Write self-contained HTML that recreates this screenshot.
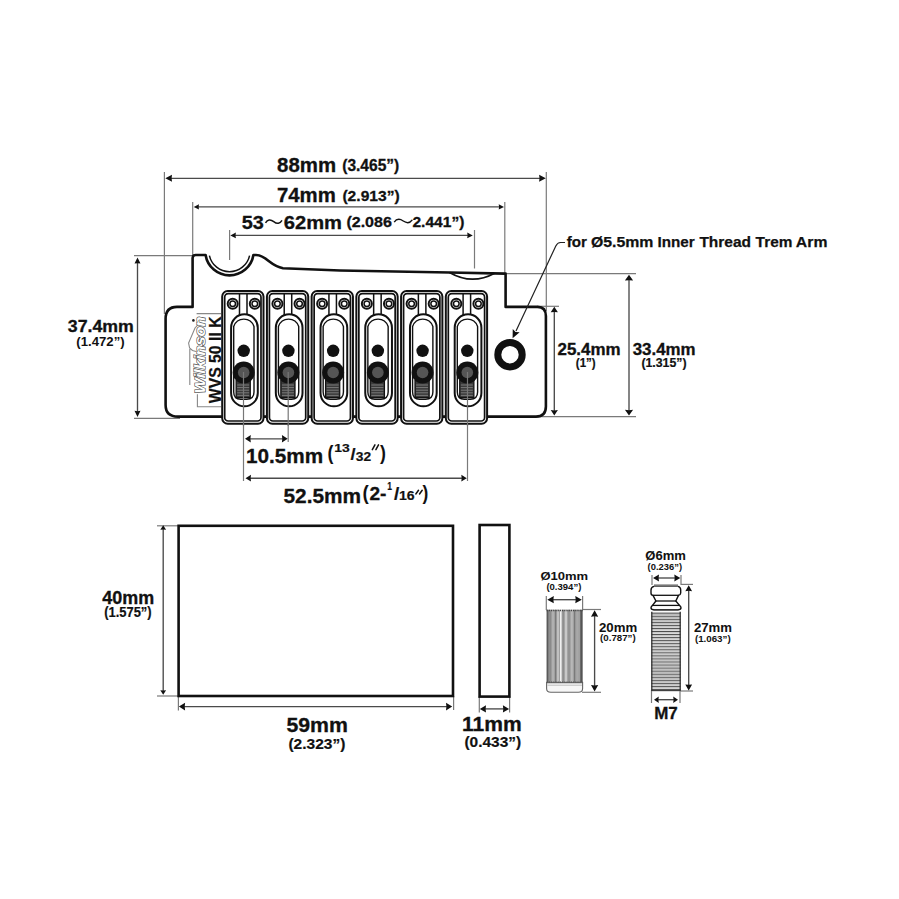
<!DOCTYPE html>
<html><head><meta charset="utf-8"><style>
html,body{margin:0;padding:0;background:#fff;}
svg{display:block;}
text{font-family:"Liberation Sans",sans-serif;font-weight:bold;}
</style></head><body>
<svg width="899" height="899" viewBox="0 0 899 899">
<rect width="899" height="899" fill="#fff"/>
<line x1="164.40" y1="172.00" x2="164.40" y2="314.00" stroke="#7a7a7a" stroke-width="1.2"/>
<line x1="546.30" y1="172.00" x2="546.30" y2="311.00" stroke="#7a7a7a" stroke-width="1.2"/>
<line x1="168.30" y1="178.30" x2="542.80" y2="178.30" stroke="#4a4a4a" stroke-width="1.35"/>
<polygon points="165.30,178.30 172.00,174.80 171.60,178.30 172.00,181.80" fill="#111"/>
<polygon points="545.80,178.30 539.10,181.80 539.50,178.30 539.10,174.80" fill="#111"/>
<line x1="192.70" y1="202.00" x2="192.70" y2="256.00" stroke="#7a7a7a" stroke-width="1.2"/>
<line x1="504.80" y1="202.00" x2="504.80" y2="274.00" stroke="#7a7a7a" stroke-width="1.2"/>
<line x1="196.70" y1="206.90" x2="501.00" y2="206.90" stroke="#4a4a4a" stroke-width="1.35"/>
<polygon points="193.70,206.90 199.00,204.20 198.60,206.90 199.00,209.60" fill="#111"/>
<polygon points="504.00,206.90 498.70,209.60 499.10,206.90 498.70,204.20" fill="#111"/>
<line x1="229.60" y1="230.00" x2="229.60" y2="260.00" stroke="#7a7a7a" stroke-width="1.2"/>
<line x1="474.50" y1="230.00" x2="474.50" y2="268.50" stroke="#7a7a7a" stroke-width="1.2"/>
<line x1="233.30" y1="235.40" x2="469.80" y2="235.40" stroke="#4a4a4a" stroke-width="1.35"/>
<polygon points="230.30,235.40 235.90,232.60 235.50,235.40 235.90,238.20" fill="#111"/>
<polygon points="472.80,235.40 467.20,238.20 467.60,235.40 467.20,232.60" fill="#111"/>
<line x1="134.00" y1="255.60" x2="193.00" y2="255.60" stroke="#7a7a7a" stroke-width="1.2"/>
<line x1="134.00" y1="418.30" x2="180.00" y2="418.30" stroke="#7a7a7a" stroke-width="1.2"/>
<line x1="137.50" y1="260.40" x2="137.50" y2="414.00" stroke="#4a4a4a" stroke-width="1.35"/>
<polygon points="137.50,257.40 140.50,263.60 137.50,263.20 134.50,263.60" fill="#111"/>
<polygon points="137.50,417.00 134.50,410.80 137.50,411.20 140.50,410.80" fill="#111"/>
<line x1="505.00" y1="273.60" x2="636.00" y2="273.60" stroke="#7a7a7a" stroke-width="1.2"/>
<line x1="537.00" y1="306.30" x2="559.00" y2="306.30" stroke="#7a7a7a" stroke-width="1.2"/>
<line x1="530.00" y1="416.60" x2="636.00" y2="416.60" stroke="#7a7a7a" stroke-width="1.2"/>
<line x1="554.30" y1="309.70" x2="554.30" y2="412.60" stroke="#4a4a4a" stroke-width="1.35"/>
<polygon points="554.30,306.70 557.90,312.30 554.30,311.90 550.70,312.30" fill="#111"/>
<polygon points="554.30,415.60 550.70,410.00 554.30,410.40 557.90,410.00" fill="#111"/>
<line x1="629.00" y1="277.80" x2="629.00" y2="412.60" stroke="#4a4a4a" stroke-width="1.35"/>
<polygon points="629.00,274.80 633.10,280.60 629.00,280.20 624.90,280.60" fill="#111"/>
<polygon points="629.00,415.60 624.90,409.80 629.00,410.20 633.10,409.80" fill="#111"/>
<line x1="243.50" y1="372.00" x2="243.50" y2="481.00" stroke="#7a7a7a" stroke-width="1.2"/>
<line x1="288.20" y1="372.00" x2="288.20" y2="442.00" stroke="#7a7a7a" stroke-width="1.2"/>
<line x1="467.50" y1="372.00" x2="467.50" y2="481.00" stroke="#7a7a7a" stroke-width="1.2"/>
<line x1="248.00" y1="438.80" x2="284.70" y2="438.80" stroke="#4a4a4a" stroke-width="1.35"/>
<polygon points="245.00,438.80 250.80,435.00 250.40,438.80 250.80,442.60" fill="#111"/>
<polygon points="287.70,438.80 281.90,442.60 282.30,438.80 281.90,435.00" fill="#111"/>
<line x1="248.50" y1="478.20" x2="463.80" y2="478.20" stroke="#4a4a4a" stroke-width="1.35"/>
<polygon points="245.50,478.20 251.00,474.80 250.60,478.20 251.00,481.60" fill="#111"/>
<polygon points="466.80,478.20 461.30,481.60 461.70,478.20 461.30,474.80" fill="#111"/>
<line x1="157.00" y1="525.80" x2="178.00" y2="525.80" stroke="#7a7a7a" stroke-width="1.2"/>
<line x1="157.00" y1="696.00" x2="178.00" y2="696.00" stroke="#7a7a7a" stroke-width="1.2"/>
<line x1="163.20" y1="528.20" x2="163.20" y2="691.80" stroke="#4a4a4a" stroke-width="1.35"/>
<polygon points="163.20,525.20 166.10,529.80 163.20,529.40 160.30,529.80" fill="#111"/>
<polygon points="163.20,694.80 160.30,690.20 163.20,690.60 166.10,690.20" fill="#111"/>
<line x1="178.40" y1="696.00" x2="178.40" y2="710.50" stroke="#7a7a7a" stroke-width="1.2"/>
<line x1="453.60" y1="696.00" x2="453.60" y2="710.00" stroke="#7a7a7a" stroke-width="1.2"/>
<line x1="181.90" y1="706.60" x2="449.20" y2="706.60" stroke="#4a4a4a" stroke-width="1.35"/>
<polygon points="178.90,706.60 185.10,702.80 184.70,706.60 185.10,710.40" fill="#111"/>
<polygon points="452.20,706.60 446.00,710.40 446.40,706.60 446.00,702.80" fill="#111"/>
<line x1="479.30" y1="696.00" x2="479.30" y2="712.50" stroke="#7a7a7a" stroke-width="1.2"/>
<line x1="509.60" y1="696.00" x2="509.60" y2="712.50" stroke="#7a7a7a" stroke-width="1.2"/>
<line x1="482.80" y1="708.90" x2="506.10" y2="708.90" stroke="#4a4a4a" stroke-width="1.35"/>
<polygon points="479.80,708.90 486.00,705.30 485.60,708.90 486.00,712.50" fill="#111"/>
<polygon points="509.10,708.90 502.90,712.50 503.30,708.90 502.90,705.30" fill="#111"/>
<line x1="546.30" y1="596.00" x2="546.30" y2="610.00" stroke="#7a7a7a" stroke-width="1.2"/>
<line x1="582.60" y1="596.00" x2="582.60" y2="610.00" stroke="#7a7a7a" stroke-width="1.2"/>
<line x1="550.30" y1="599.70" x2="578.80" y2="599.70" stroke="#4a4a4a" stroke-width="1.35"/>
<polygon points="547.30,599.70 553.80,596.10 553.40,599.70 553.80,603.30" fill="#111"/>
<polygon points="581.80,599.70 575.30,603.30 575.70,599.70 575.30,596.10" fill="#111"/>
<line x1="582.00" y1="609.50" x2="601.00" y2="609.50" stroke="#7a7a7a" stroke-width="1.2"/>
<line x1="582.00" y1="692.30" x2="601.00" y2="692.30" stroke="#7a7a7a" stroke-width="1.2"/>
<line x1="594.60" y1="613.20" x2="594.60" y2="688.60" stroke="#4a4a4a" stroke-width="1.35"/>
<polygon points="594.60,610.20 598.20,616.70 594.60,616.30 591.00,616.70" fill="#111"/>
<polygon points="594.60,691.60 591.00,685.10 594.60,685.50 598.20,685.10" fill="#111"/>
<line x1="652.00" y1="575.00" x2="652.00" y2="585.00" stroke="#7a7a7a" stroke-width="1.2"/>
<line x1="681.00" y1="575.00" x2="681.00" y2="585.00" stroke="#7a7a7a" stroke-width="1.2"/>
<line x1="656.00" y1="578.00" x2="677.30" y2="578.00" stroke="#4a4a4a" stroke-width="1.35"/>
<polygon points="653.00,578.00 659.00,574.60 658.60,578.00 659.00,581.40" fill="#111"/>
<polygon points="680.30,578.00 674.30,581.40 674.70,578.00 674.30,574.60" fill="#111"/>
<line x1="681.00" y1="584.40" x2="693.00" y2="584.40" stroke="#7a7a7a" stroke-width="1.2"/>
<line x1="680.00" y1="691.00" x2="693.00" y2="691.00" stroke="#7a7a7a" stroke-width="1.2"/>
<line x1="688.70" y1="588.20" x2="688.70" y2="687.40" stroke="#4a4a4a" stroke-width="1.35"/>
<polygon points="688.70,585.20 692.10,591.20 688.70,590.80 685.30,591.20" fill="#111"/>
<polygon points="688.70,690.40 685.30,684.40 688.70,684.80 692.10,684.40" fill="#111"/>
<line x1="651.50" y1="690.00" x2="651.50" y2="703.00" stroke="#7a7a7a" stroke-width="1.2"/>
<line x1="680.00" y1="690.00" x2="680.00" y2="703.00" stroke="#7a7a7a" stroke-width="1.2"/>
<line x1="657.00" y1="699.70" x2="675.00" y2="699.70" stroke="#4a4a4a" stroke-width="1.35"/>
<polygon points="654.00,699.70 658.80,696.40 658.40,699.70 658.80,703.00" fill="#111"/>
<polygon points="678.00,699.70 673.20,703.00 673.60,699.70 673.20,696.40" fill="#111"/>
<path d="M192.6,306.9 L192.6,258 Q192.6,255 195.6,255 L205.6,255 A24.2,24.2 0 0 0 253.4,255 L256,255 C266,255 270,266 283,268.2 L340,270.5 L449.5,272.5 L505.6,273.6 L505.6,306.9 L537.5,306.9 Q545.9,306.9 545.9,316 L545.9,406.5 Q545.9,416.6 536,416.6 L178,416.6 Q165.6,416.6 165.6,405 L165.6,319 Q165.6,306.9 177,306.9 Z" fill="#fff" stroke="#111" stroke-width="2.6" stroke-linejoin="round"/>
<path d="M209.4,255.6 A20.6,20.6 0 0 0 249.6,255.6" fill="none" stroke="#111" stroke-width="1.5"/>
<path d="M449.5,272.5 Q472,285.5 494.6,273.2" fill="none" stroke="#111" stroke-width="1.8"/>
<path d="M221,313.6 L196.6,313.6 M199.5,323 L195,328 L188.6,343 L189.6,348 L192.5,350.5 L196,351.5 M189.8,349 L189.8,385 M197.4,394.3 L197.4,406.8 L221,406.8" fill="none" stroke="#888" stroke-width="1.1"/>
<circle cx="193.4" cy="320.4" r="1.3" fill="#222"/>
<rect x="222.20" y="291.0" width="41.3" height="132.7" rx="5.5" fill="#fff" stroke="#111" stroke-width="2.0"/><rect x="224.70" y="293.7" width="36.3" height="127.3" rx="3.5" fill="none" stroke="#111" stroke-width="1.7"/><path d="M239.50,294 L239.50,315 M247.00,294 L247.00,315" stroke="#111" stroke-width="1.5" fill="none"/><circle cx="232.70" cy="303.7" r="5.0" fill="#fff" stroke="#111" stroke-width="2.0"/><circle cx="232.70" cy="303.7" r="2.8" fill="#fff" stroke="#111" stroke-width="1.5"/><circle cx="254.80" cy="303.7" r="5.0" fill="#fff" stroke="#111" stroke-width="2.0"/><circle cx="254.80" cy="303.7" r="2.8" fill="#fff" stroke="#111" stroke-width="1.5"/><rect x="231.10" y="314.3" width="26.7" height="92" rx="13.35" fill="#fff" stroke="#111" stroke-width="2"/><path d="M233.70,392 L233.70,326.5 A10.8,11.2 0 0 1 254.00,326.5 L254.00,392 Q254.00,399.2 246.70,399.2 L240.70,399.2 Q233.70,399.2 233.70,392" fill="none" stroke="#111" stroke-width="1.4"/><path d="M236.10,380 L236.10,397.6 L250.30,397.6 L250.30,380" fill="#3a3a3a" stroke="#111" stroke-width="1.2"/><line x1="237.20" y1="385.00" x2="249.20" y2="385.00" stroke="#8a8a8a" stroke-width="0.8"/><line x1="237.20" y1="387.60" x2="249.20" y2="387.60" stroke="#8a8a8a" stroke-width="0.8"/><line x1="237.20" y1="390.20" x2="249.20" y2="390.20" stroke="#8a8a8a" stroke-width="0.8"/><line x1="237.20" y1="392.80" x2="249.20" y2="392.80" stroke="#8a8a8a" stroke-width="0.8"/><line x1="237.20" y1="395.40" x2="249.20" y2="395.40" stroke="#8a8a8a" stroke-width="0.8"/><circle cx="243.70" cy="350.8" r="6.2" fill="#111"/><circle cx="243.70" cy="372.5" r="11" fill="#111"/><circle cx="243.70" cy="372.5" r="5.8" fill="#555"/>
<rect x="266.92" y="291.0" width="41.3" height="132.7" rx="5.5" fill="#fff" stroke="#111" stroke-width="2.0"/><rect x="269.42" y="293.7" width="36.3" height="127.3" rx="3.5" fill="none" stroke="#111" stroke-width="1.7"/><path d="M284.22,294 L284.22,315 M291.72,294 L291.72,315" stroke="#111" stroke-width="1.5" fill="none"/><circle cx="277.42" cy="303.7" r="5.0" fill="#fff" stroke="#111" stroke-width="2.0"/><circle cx="277.42" cy="303.7" r="2.8" fill="#fff" stroke="#111" stroke-width="1.5"/><circle cx="299.52" cy="303.7" r="5.0" fill="#fff" stroke="#111" stroke-width="2.0"/><circle cx="299.52" cy="303.7" r="2.8" fill="#fff" stroke="#111" stroke-width="1.5"/><rect x="275.82" y="314.3" width="26.7" height="92" rx="13.35" fill="#fff" stroke="#111" stroke-width="2"/><path d="M278.42,392 L278.42,326.5 A10.8,11.2 0 0 1 298.72,326.5 L298.72,392 Q298.72,399.2 291.42,399.2 L285.42,399.2 Q278.42,399.2 278.42,392" fill="none" stroke="#111" stroke-width="1.4"/><path d="M280.82,380 L280.82,397.6 L295.02,397.6 L295.02,380" fill="#3a3a3a" stroke="#111" stroke-width="1.2"/><line x1="281.92" y1="385.00" x2="293.92" y2="385.00" stroke="#8a8a8a" stroke-width="0.8"/><line x1="281.92" y1="387.60" x2="293.92" y2="387.60" stroke="#8a8a8a" stroke-width="0.8"/><line x1="281.92" y1="390.20" x2="293.92" y2="390.20" stroke="#8a8a8a" stroke-width="0.8"/><line x1="281.92" y1="392.80" x2="293.92" y2="392.80" stroke="#8a8a8a" stroke-width="0.8"/><line x1="281.92" y1="395.40" x2="293.92" y2="395.40" stroke="#8a8a8a" stroke-width="0.8"/><circle cx="288.42" cy="350.8" r="6.2" fill="#111"/><circle cx="288.42" cy="372.5" r="11" fill="#111"/><circle cx="288.42" cy="372.5" r="5.8" fill="#555"/>
<rect x="311.64" y="291.0" width="41.3" height="132.7" rx="5.5" fill="#fff" stroke="#111" stroke-width="2.0"/><rect x="314.14" y="293.7" width="36.3" height="127.3" rx="3.5" fill="none" stroke="#111" stroke-width="1.7"/><path d="M328.94,294 L328.94,315 M336.44,294 L336.44,315" stroke="#111" stroke-width="1.5" fill="none"/><circle cx="322.14" cy="303.7" r="5.0" fill="#fff" stroke="#111" stroke-width="2.0"/><circle cx="322.14" cy="303.7" r="2.8" fill="#fff" stroke="#111" stroke-width="1.5"/><circle cx="344.24" cy="303.7" r="5.0" fill="#fff" stroke="#111" stroke-width="2.0"/><circle cx="344.24" cy="303.7" r="2.8" fill="#fff" stroke="#111" stroke-width="1.5"/><rect x="320.54" y="314.3" width="26.7" height="92" rx="13.35" fill="#fff" stroke="#111" stroke-width="2"/><path d="M323.14,392 L323.14,326.5 A10.8,11.2 0 0 1 343.44,326.5 L343.44,392 Q343.44,399.2 336.14,399.2 L330.14,399.2 Q323.14,399.2 323.14,392" fill="none" stroke="#111" stroke-width="1.4"/><path d="M325.54,380 L325.54,397.6 L339.74,397.6 L339.74,380" fill="#3a3a3a" stroke="#111" stroke-width="1.2"/><line x1="326.64" y1="385.00" x2="338.64" y2="385.00" stroke="#8a8a8a" stroke-width="0.8"/><line x1="326.64" y1="387.60" x2="338.64" y2="387.60" stroke="#8a8a8a" stroke-width="0.8"/><line x1="326.64" y1="390.20" x2="338.64" y2="390.20" stroke="#8a8a8a" stroke-width="0.8"/><line x1="326.64" y1="392.80" x2="338.64" y2="392.80" stroke="#8a8a8a" stroke-width="0.8"/><line x1="326.64" y1="395.40" x2="338.64" y2="395.40" stroke="#8a8a8a" stroke-width="0.8"/><circle cx="333.14" cy="350.8" r="6.2" fill="#111"/><circle cx="333.14" cy="372.5" r="11" fill="#111"/><circle cx="333.14" cy="372.5" r="5.8" fill="#555"/>
<rect x="356.36" y="291.0" width="41.3" height="132.7" rx="5.5" fill="#fff" stroke="#111" stroke-width="2.0"/><rect x="358.86" y="293.7" width="36.3" height="127.3" rx="3.5" fill="none" stroke="#111" stroke-width="1.7"/><path d="M373.66,294 L373.66,315 M381.16,294 L381.16,315" stroke="#111" stroke-width="1.5" fill="none"/><circle cx="366.86" cy="303.7" r="5.0" fill="#fff" stroke="#111" stroke-width="2.0"/><circle cx="366.86" cy="303.7" r="2.8" fill="#fff" stroke="#111" stroke-width="1.5"/><circle cx="388.96" cy="303.7" r="5.0" fill="#fff" stroke="#111" stroke-width="2.0"/><circle cx="388.96" cy="303.7" r="2.8" fill="#fff" stroke="#111" stroke-width="1.5"/><rect x="365.26" y="314.3" width="26.7" height="92" rx="13.35" fill="#fff" stroke="#111" stroke-width="2"/><path d="M367.86,392 L367.86,326.5 A10.8,11.2 0 0 1 388.16,326.5 L388.16,392 Q388.16,399.2 380.86,399.2 L374.86,399.2 Q367.86,399.2 367.86,392" fill="none" stroke="#111" stroke-width="1.4"/><path d="M370.26,380 L370.26,397.6 L384.46,397.6 L384.46,380" fill="#3a3a3a" stroke="#111" stroke-width="1.2"/><line x1="371.36" y1="385.00" x2="383.36" y2="385.00" stroke="#8a8a8a" stroke-width="0.8"/><line x1="371.36" y1="387.60" x2="383.36" y2="387.60" stroke="#8a8a8a" stroke-width="0.8"/><line x1="371.36" y1="390.20" x2="383.36" y2="390.20" stroke="#8a8a8a" stroke-width="0.8"/><line x1="371.36" y1="392.80" x2="383.36" y2="392.80" stroke="#8a8a8a" stroke-width="0.8"/><line x1="371.36" y1="395.40" x2="383.36" y2="395.40" stroke="#8a8a8a" stroke-width="0.8"/><circle cx="377.86" cy="350.8" r="6.2" fill="#111"/><circle cx="377.86" cy="372.5" r="11" fill="#111"/><circle cx="377.86" cy="372.5" r="5.8" fill="#555"/>
<rect x="401.08" y="291.0" width="41.3" height="132.7" rx="5.5" fill="#fff" stroke="#111" stroke-width="2.0"/><rect x="403.58" y="293.7" width="36.3" height="127.3" rx="3.5" fill="none" stroke="#111" stroke-width="1.7"/><path d="M418.38,294 L418.38,315 M425.88,294 L425.88,315" stroke="#111" stroke-width="1.5" fill="none"/><circle cx="411.58" cy="303.7" r="5.0" fill="#fff" stroke="#111" stroke-width="2.0"/><circle cx="411.58" cy="303.7" r="2.8" fill="#fff" stroke="#111" stroke-width="1.5"/><circle cx="433.68" cy="303.7" r="5.0" fill="#fff" stroke="#111" stroke-width="2.0"/><circle cx="433.68" cy="303.7" r="2.8" fill="#fff" stroke="#111" stroke-width="1.5"/><rect x="409.98" y="314.3" width="26.7" height="92" rx="13.35" fill="#fff" stroke="#111" stroke-width="2"/><path d="M412.58,392 L412.58,326.5 A10.8,11.2 0 0 1 432.88,326.5 L432.88,392 Q432.88,399.2 425.58,399.2 L419.58,399.2 Q412.58,399.2 412.58,392" fill="none" stroke="#111" stroke-width="1.4"/><path d="M414.98,380 L414.98,397.6 L429.18,397.6 L429.18,380" fill="#3a3a3a" stroke="#111" stroke-width="1.2"/><line x1="416.08" y1="385.00" x2="428.08" y2="385.00" stroke="#8a8a8a" stroke-width="0.8"/><line x1="416.08" y1="387.60" x2="428.08" y2="387.60" stroke="#8a8a8a" stroke-width="0.8"/><line x1="416.08" y1="390.20" x2="428.08" y2="390.20" stroke="#8a8a8a" stroke-width="0.8"/><line x1="416.08" y1="392.80" x2="428.08" y2="392.80" stroke="#8a8a8a" stroke-width="0.8"/><line x1="416.08" y1="395.40" x2="428.08" y2="395.40" stroke="#8a8a8a" stroke-width="0.8"/><circle cx="422.58" cy="350.8" r="6.2" fill="#111"/><circle cx="422.58" cy="372.5" r="11" fill="#111"/><circle cx="422.58" cy="372.5" r="5.8" fill="#555"/>
<rect x="445.80" y="291.0" width="41.3" height="132.7" rx="5.5" fill="#fff" stroke="#111" stroke-width="2.0"/><rect x="448.30" y="293.7" width="36.3" height="127.3" rx="3.5" fill="none" stroke="#111" stroke-width="1.7"/><path d="M463.10,294 L463.10,315 M470.60,294 L470.60,315" stroke="#111" stroke-width="1.5" fill="none"/><circle cx="456.30" cy="303.7" r="5.0" fill="#fff" stroke="#111" stroke-width="2.0"/><circle cx="456.30" cy="303.7" r="2.8" fill="#fff" stroke="#111" stroke-width="1.5"/><circle cx="478.40" cy="303.7" r="5.0" fill="#fff" stroke="#111" stroke-width="2.0"/><circle cx="478.40" cy="303.7" r="2.8" fill="#fff" stroke="#111" stroke-width="1.5"/><rect x="454.70" y="314.3" width="26.7" height="92" rx="13.35" fill="#fff" stroke="#111" stroke-width="2"/><path d="M457.30,392 L457.30,326.5 A10.8,11.2 0 0 1 477.60,326.5 L477.60,392 Q477.60,399.2 470.30,399.2 L464.30,399.2 Q457.30,399.2 457.30,392" fill="none" stroke="#111" stroke-width="1.4"/><path d="M459.70,380 L459.70,397.6 L473.90,397.6 L473.90,380" fill="#3a3a3a" stroke="#111" stroke-width="1.2"/><line x1="460.80" y1="385.00" x2="472.80" y2="385.00" stroke="#8a8a8a" stroke-width="0.8"/><line x1="460.80" y1="387.60" x2="472.80" y2="387.60" stroke="#8a8a8a" stroke-width="0.8"/><line x1="460.80" y1="390.20" x2="472.80" y2="390.20" stroke="#8a8a8a" stroke-width="0.8"/><line x1="460.80" y1="392.80" x2="472.80" y2="392.80" stroke="#8a8a8a" stroke-width="0.8"/><line x1="460.80" y1="395.40" x2="472.80" y2="395.40" stroke="#8a8a8a" stroke-width="0.8"/><circle cx="467.30" cy="350.8" r="6.2" fill="#111"/><circle cx="467.30" cy="372.5" r="11" fill="#111"/><circle cx="467.30" cy="372.5" r="5.8" fill="#555"/>
<line x1="243.50" y1="372.00" x2="243.50" y2="426.00" stroke="#777" stroke-width="1.2"/>
<line x1="288.20" y1="372.00" x2="288.20" y2="426.00" stroke="#777" stroke-width="1.2"/>
<line x1="467.50" y1="372.00" x2="467.50" y2="426.00" stroke="#777" stroke-width="1.2"/>
<circle cx="510" cy="354.7" r="12.2" fill="none" stroke="#111" stroke-width="7"/>
<path d="M565,242.5 L560.5,242.5 Q557.5,242.5 555.8,246 L516,331" fill="none" stroke="#222" stroke-width="1.2"/>
<polygon points="512.60,338.30 512.74,328.99 515.56,331.95 519.63,332.20" fill="#111"/>
<rect x="178.6" y="525.8" width="274.4" height="170.2" fill="#fff" stroke="#111" stroke-width="2.6"/>
<rect x="479.6" y="525" width="29.8" height="171.6" fill="#fff" stroke="#111" stroke-width="2.6"/>
<rect x="546.6" y="609.8" width="36" height="72.8" fill="#a0a0a0"/><line x1="547.6" y1="609.8" x2="547.6" y2="682.6" stroke="#5a5a5a" stroke-width="1.8"/><line x1="550.2" y1="609.8" x2="550.2" y2="682.6" stroke="#8a8a8a" stroke-width="2"/><line x1="553" y1="609.8" x2="553" y2="682.6" stroke="#b0b0b0" stroke-width="2"/><line x1="555.6" y1="609.8" x2="555.6" y2="682.6" stroke="#7a7a7a" stroke-width="1.2"/><line x1="558" y1="609.8" x2="558" y2="682.6" stroke="#c0c0c0" stroke-width="2"/><line x1="560.8" y1="609.8" x2="560.8" y2="682.6" stroke="#f0f0f0" stroke-width="1.6"/><line x1="563.2" y1="609.8" x2="563.2" y2="682.6" stroke="#8a8a8a" stroke-width="1.2"/><line x1="566" y1="609.8" x2="566" y2="682.6" stroke="#c8c8c8" stroke-width="2.2"/><line x1="569" y1="609.8" x2="569" y2="682.6" stroke="#8a8a8a" stroke-width="1.2"/><line x1="571.8" y1="609.8" x2="571.8" y2="682.6" stroke="#b8b8b8" stroke-width="2"/><line x1="574.6" y1="609.8" x2="574.6" y2="682.6" stroke="#7a7a7a" stroke-width="1.2"/><line x1="577.4" y1="609.8" x2="577.4" y2="682.6" stroke="#a8a8a8" stroke-width="2"/><line x1="581.4" y1="609.8" x2="581.4" y2="682.6" stroke="#555" stroke-width="2.2"/><path d="M546.6,682.6 L582.6,682.6 L582.6,688.5 Q582.6,692.3 578.5,692.3 L550.8,692.3 Q546.6,692.3 546.6,688.5 Z" fill="#f6f6f6" stroke="#666" stroke-width="1.1"/><line x1="547.5" y1="685.2" x2="582" y2="685.2" stroke="#b0b0b0" stroke-width="0.8"/><line x1="546.6" y1="610.5" x2="582.6" y2="610.5" stroke="#444" stroke-width="1.6" stroke-dasharray="1.2,1"/><line x1="546.6" y1="682.2" x2="582.6" y2="682.2" stroke="#555" stroke-width="1.2" stroke-dasharray="1.2,1"/>
<rect x="651.6" y="611.8" width="28.8" height="79.2" fill="#e6e6e6"/><line x1="651.6" y1="613.20" x2="680.4" y2="613.20" stroke="#333" stroke-width="0.85"/><line x1="652" y1="614.50" x2="680" y2="614.50" stroke="#b0b0b0" stroke-width="0.8"/><line x1="651.6" y1="616.25" x2="680.4" y2="616.25" stroke="#333" stroke-width="0.85"/><line x1="652" y1="617.55" x2="680" y2="617.55" stroke="#b0b0b0" stroke-width="0.8"/><line x1="651.6" y1="619.30" x2="680.4" y2="619.30" stroke="#333" stroke-width="0.85"/><line x1="652" y1="620.60" x2="680" y2="620.60" stroke="#b0b0b0" stroke-width="0.8"/><line x1="651.6" y1="622.35" x2="680.4" y2="622.35" stroke="#333" stroke-width="0.85"/><line x1="652" y1="623.65" x2="680" y2="623.65" stroke="#b0b0b0" stroke-width="0.8"/><line x1="651.6" y1="625.40" x2="680.4" y2="625.40" stroke="#333" stroke-width="0.85"/><line x1="652" y1="626.70" x2="680" y2="626.70" stroke="#b0b0b0" stroke-width="0.8"/><line x1="651.6" y1="628.45" x2="680.4" y2="628.45" stroke="#333" stroke-width="0.85"/><line x1="652" y1="629.75" x2="680" y2="629.75" stroke="#b0b0b0" stroke-width="0.8"/><line x1="651.6" y1="631.50" x2="680.4" y2="631.50" stroke="#333" stroke-width="0.85"/><line x1="652" y1="632.80" x2="680" y2="632.80" stroke="#b0b0b0" stroke-width="0.8"/><line x1="651.6" y1="634.55" x2="680.4" y2="634.55" stroke="#333" stroke-width="0.85"/><line x1="652" y1="635.85" x2="680" y2="635.85" stroke="#b0b0b0" stroke-width="0.8"/><line x1="651.6" y1="637.60" x2="680.4" y2="637.60" stroke="#333" stroke-width="0.85"/><line x1="652" y1="638.90" x2="680" y2="638.90" stroke="#b0b0b0" stroke-width="0.8"/><line x1="651.6" y1="640.65" x2="680.4" y2="640.65" stroke="#333" stroke-width="0.85"/><line x1="652" y1="641.95" x2="680" y2="641.95" stroke="#b0b0b0" stroke-width="0.8"/><line x1="651.6" y1="643.70" x2="680.4" y2="643.70" stroke="#333" stroke-width="0.85"/><line x1="652" y1="645.00" x2="680" y2="645.00" stroke="#b0b0b0" stroke-width="0.8"/><line x1="651.6" y1="646.75" x2="680.4" y2="646.75" stroke="#333" stroke-width="0.85"/><line x1="652" y1="648.05" x2="680" y2="648.05" stroke="#b0b0b0" stroke-width="0.8"/><line x1="651.6" y1="649.80" x2="680.4" y2="649.80" stroke="#333" stroke-width="0.85"/><line x1="652" y1="651.10" x2="680" y2="651.10" stroke="#b0b0b0" stroke-width="0.8"/><line x1="651.6" y1="652.85" x2="680.4" y2="652.85" stroke="#333" stroke-width="0.85"/><line x1="652" y1="654.15" x2="680" y2="654.15" stroke="#b0b0b0" stroke-width="0.8"/><line x1="651.6" y1="655.90" x2="680.4" y2="655.90" stroke="#333" stroke-width="0.85"/><line x1="652" y1="657.20" x2="680" y2="657.20" stroke="#b0b0b0" stroke-width="0.8"/><line x1="651.6" y1="658.95" x2="680.4" y2="658.95" stroke="#333" stroke-width="0.85"/><line x1="652" y1="660.25" x2="680" y2="660.25" stroke="#b0b0b0" stroke-width="0.8"/><line x1="651.6" y1="662.00" x2="680.4" y2="662.00" stroke="#333" stroke-width="0.85"/><line x1="652" y1="663.30" x2="680" y2="663.30" stroke="#b0b0b0" stroke-width="0.8"/><line x1="651.6" y1="665.05" x2="680.4" y2="665.05" stroke="#333" stroke-width="0.85"/><line x1="652" y1="666.35" x2="680" y2="666.35" stroke="#b0b0b0" stroke-width="0.8"/><line x1="651.6" y1="668.10" x2="680.4" y2="668.10" stroke="#333" stroke-width="0.85"/><line x1="652" y1="669.40" x2="680" y2="669.40" stroke="#b0b0b0" stroke-width="0.8"/><line x1="651.6" y1="671.15" x2="680.4" y2="671.15" stroke="#333" stroke-width="0.85"/><line x1="652" y1="672.45" x2="680" y2="672.45" stroke="#b0b0b0" stroke-width="0.8"/><line x1="651.6" y1="674.20" x2="680.4" y2="674.20" stroke="#333" stroke-width="0.85"/><line x1="652" y1="675.50" x2="680" y2="675.50" stroke="#b0b0b0" stroke-width="0.8"/><line x1="651.6" y1="677.25" x2="680.4" y2="677.25" stroke="#333" stroke-width="0.85"/><line x1="652" y1="678.55" x2="680" y2="678.55" stroke="#b0b0b0" stroke-width="0.8"/><line x1="651.6" y1="680.30" x2="680.4" y2="680.30" stroke="#333" stroke-width="0.85"/><line x1="652" y1="681.60" x2="680" y2="681.60" stroke="#b0b0b0" stroke-width="0.8"/><line x1="651.6" y1="683.35" x2="680.4" y2="683.35" stroke="#333" stroke-width="0.85"/><line x1="652" y1="684.65" x2="680" y2="684.65" stroke="#b0b0b0" stroke-width="0.8"/><line x1="651.6" y1="686.40" x2="680.4" y2="686.40" stroke="#333" stroke-width="0.85"/><line x1="652" y1="687.70" x2="680" y2="687.70" stroke="#b0b0b0" stroke-width="0.8"/><line x1="651.6" y1="689.45" x2="680.4" y2="689.45" stroke="#333" stroke-width="0.85"/><line x1="652" y1="690.75" x2="680" y2="690.75" stroke="#b0b0b0" stroke-width="0.8"/><path d="M651.8,611.8 L651.8,691 M680.2,611.8 L680.2,691" stroke="#222" stroke-width="1.2"/><line x1="652" y1="690.6" x2="680" y2="690.6" stroke="#333" stroke-width="1"/><path d="M654,586.4 L678,586.4 Q680.7,587 680.7,590 L680.7,593 Q680.5,595.2 678.5,595.4 L675.8,601 L679.5,605.4 Q681,606.5 681,607.8 Q681,609.8 678,609.8 L654,609.8 Q651,609.8 651,607.8 Q651,606.5 652.5,605.4 L655.9,601 L653,595.4 Q651,595.2 651,593 L651,590 Q651,587 654,586.4 Z" fill="#fff" stroke="#111" stroke-width="1.4" stroke-linejoin="round"/><rect x="654" y="584.4" width="24" height="2.4" fill="#777"/><line x1="652.5" y1="595.3" x2="679" y2="595.3" stroke="#111" stroke-width="1.3"/><line x1="655.5" y1="601" x2="676.2" y2="601" stroke="#111" stroke-width="1.3"/><line x1="652.5" y1="605.4" x2="679.5" y2="605.4" stroke="#111" stroke-width="1.3"/><rect x="653.5" y="609.6" width="25" height="1.4" fill="#666"/>
<text x="277.05" y="171.88" font-size="19.83" textLength="58.99" lengthAdjust="spacingAndGlyphs" fill="#111" stroke="#111" stroke-width="0.3">88mm</text>
<text x="342.22" y="170.80" font-size="15.83" textLength="57.03" lengthAdjust="spacingAndGlyphs" fill="#111" stroke="#111" stroke-width="0.3">(3.465”)</text>
<text x="276.94" y="202.28" font-size="19.69" textLength="58.89" lengthAdjust="spacingAndGlyphs" fill="#111" stroke="#111" stroke-width="0.3">74mm</text>
<text x="342.42" y="201.31" font-size="15.55" textLength="57.34" lengthAdjust="spacingAndGlyphs" fill="#111" stroke="#111" stroke-width="0.3">(2.913”)</text>
<text x="241.70" y="228.88" font-size="19.26" textLength="22.12" lengthAdjust="spacingAndGlyphs" fill="#111" stroke="#111" stroke-width="0.3">53</text>
<path d="M265.50,222.80 C267.48,219.44 270.45,218.96 273.75,221.60 C277.05,224.24 280.02,223.76 282.00,220.40" fill="none" stroke="#111" stroke-width="1.5"/>
<text x="283.77" y="228.88" font-size="19.26" textLength="58.25" lengthAdjust="spacingAndGlyphs" fill="#111" stroke="#111" stroke-width="0.3">62mm</text>
<text x="346.40" y="226.71" font-size="15.41" textLength="45.47" lengthAdjust="spacingAndGlyphs" fill="#111" stroke="#111" stroke-width="0.3">(2.086</text>
<path d="M394.20,222.10 C396.37,219.02 399.63,218.58 403.25,221.00 C406.87,223.42 410.13,222.98 412.30,219.90" fill="none" stroke="#111" stroke-width="1.4"/>
<text x="412.47" y="226.71" font-size="15.41" textLength="51.90" lengthAdjust="spacingAndGlyphs" fill="#111" stroke="#111" stroke-width="0.3">2.441”)</text>
<text x="566.76" y="246.50" font-size="14.92" textLength="20.17" lengthAdjust="spacingAndGlyphs" fill="#111" stroke="#111" stroke-width="0.25">for</text>
<text x="590.97" y="246.71" font-size="15.41" textLength="62.49" lengthAdjust="spacingAndGlyphs" fill="#111" stroke="#111" stroke-width="0.25">Ø5.5mm</text>
<text x="657.49" y="246.70" font-size="15.55" textLength="37.23" lengthAdjust="spacingAndGlyphs" fill="#111" stroke="#111" stroke-width="0.25">Inner</text>
<text x="699.41" y="246.70" font-size="14.78" textLength="51.68" lengthAdjust="spacingAndGlyphs" fill="#111" stroke="#111" stroke-width="0.25">Thread</text>
<text x="755.62" y="246.70" font-size="15.55" textLength="36.74" lengthAdjust="spacingAndGlyphs" fill="#111" stroke="#111" stroke-width="0.25">Trem</text>
<text x="795.89" y="246.70" font-size="15.55" textLength="31.56" lengthAdjust="spacingAndGlyphs" fill="#111" stroke="#111" stroke-width="0.25">Arm</text>
<text x="67.81" y="332.40" font-size="17.12" textLength="66.07" lengthAdjust="spacingAndGlyphs" fill="#111" stroke="#111" stroke-width="0.3">37.4mm</text>
<text x="76.34" y="345.92" font-size="13.12" textLength="48.30" lengthAdjust="spacingAndGlyphs" fill="#111">(1.472”)</text>
<text x="557.52" y="354.60" font-size="15.98" textLength="63.10" lengthAdjust="spacingAndGlyphs" fill="#111" stroke="#111" stroke-width="0.3">25.4mm</text>
<text x="575.82" y="367.12" font-size="12.55" textLength="19.83" lengthAdjust="spacingAndGlyphs" fill="#111" stroke="#111" stroke-width="0.2">(1”)</text>
<text x="632.73" y="354.60" font-size="16.26" textLength="62.90" lengthAdjust="spacingAndGlyphs" fill="#111" stroke="#111" stroke-width="0.3">33.4mm</text>
<text x="641.38" y="367.12" font-size="12.55" textLength="45.21" lengthAdjust="spacingAndGlyphs" fill="#111" stroke="#111" stroke-width="0.2">(1.315”)</text>
<text x="246.01" y="463.38" font-size="20.68" textLength="77.24" lengthAdjust="spacingAndGlyphs" fill="#111" stroke="#111" stroke-width="0.3">10.5mm</text>
<text x="327.41" y="460.47" font-size="19.85" textLength="5.90" lengthAdjust="spacingAndGlyphs" fill="#111">(</text>
<text x="334.24" y="451.53" font-size="10.84" textLength="15.47" lengthAdjust="spacingAndGlyphs" fill="#111" stroke="#111" stroke-width="0.2">13</text>
<text x="350.52" y="460.20" font-size="16.41" textLength="5.06" lengthAdjust="spacingAndGlyphs" fill="#111" stroke="#111" stroke-width="0.2">/</text>
<text x="355.80" y="460.92" font-size="13.41" textLength="15.36" lengthAdjust="spacingAndGlyphs" fill="#111" stroke="#111" stroke-width="0.2">32</text>
<line x1="374.93" y1="444.80" x2="372.32" y2="449.60" stroke="#111" stroke-width="1.5" stroke-linecap="round"/>
<line x1="378.50" y1="444.80" x2="375.90" y2="449.60" stroke="#111" stroke-width="1.5" stroke-linecap="round"/>
<text x="379.96" y="460.47" font-size="19.85" textLength="5.90" lengthAdjust="spacingAndGlyphs" fill="#111">)</text>
<text x="283.48" y="503.18" font-size="20.26" textLength="77.59" lengthAdjust="spacingAndGlyphs" fill="#111" stroke="#111" stroke-width="0.3">52.5mm</text>
<text x="362.56" y="499.52" font-size="19.64" textLength="6.26" lengthAdjust="spacingAndGlyphs" fill="#111">(</text>
<text x="369.45" y="499.89" font-size="18.97" textLength="17.00" lengthAdjust="spacingAndGlyphs" fill="#111" stroke="#111" stroke-width="0.3">2-</text>
<text x="387.37" y="490.20" font-size="11.63" textLength="4.77" lengthAdjust="spacingAndGlyphs" fill="#111" stroke="#111" stroke-width="0.2">1</text>
<text x="393.91" y="499.69" font-size="17.97" textLength="5.28" lengthAdjust="spacingAndGlyphs" fill="#111" stroke="#111" stroke-width="0.2">/</text>
<text x="399.03" y="499.92" font-size="12.70" textLength="15.69" lengthAdjust="spacingAndGlyphs" fill="#111" stroke="#111" stroke-width="0.2">16</text>
<line x1="418.51" y1="490.30" x2="415.83" y2="494.00" stroke="#111" stroke-width="1.5" stroke-linecap="round"/>
<line x1="422.20" y1="490.30" x2="419.52" y2="494.00" stroke="#111" stroke-width="1.5" stroke-linecap="round"/>
<text x="422.57" y="499.52" font-size="19.64" textLength="5.79" lengthAdjust="spacingAndGlyphs" fill="#111">)</text>
<text x="102.35" y="603.69" font-size="17.55" textLength="51.94" lengthAdjust="spacingAndGlyphs" fill="#111" stroke="#111" stroke-width="0.3">40mm</text>
<text x="104.15" y="617.42" font-size="13.84" textLength="47.47" lengthAdjust="spacingAndGlyphs" fill="#111" stroke="#111" stroke-width="0.2">(1.575”)</text>
<text x="286.46" y="732.08" font-size="19.97" textLength="61.53" lengthAdjust="spacingAndGlyphs" fill="#111" stroke="#111" stroke-width="0.3">59mm</text>
<text x="288.42" y="749.21" font-size="15.12" textLength="56.93" lengthAdjust="spacingAndGlyphs" fill="#111" stroke="#111" stroke-width="0.2">(2.323”)</text>
<text x="461.99" y="731.18" font-size="19.40" textLength="59.70" lengthAdjust="spacingAndGlyphs" fill="#111" stroke="#111" stroke-width="0.3">11mm</text>
<text x="464.43" y="746.71" font-size="15.12" textLength="56.72" lengthAdjust="spacingAndGlyphs" fill="#111" stroke="#111" stroke-width="0.2">(0.433”)</text>
<text x="540.48" y="579.70" font-size="11.77" textLength="47.71" lengthAdjust="spacingAndGlyphs" fill="#111" stroke="#111" stroke-width="0.05">Ø10mm</text>
<text x="546.42" y="589.95" font-size="8.84" textLength="34.94" lengthAdjust="spacingAndGlyphs" fill="#111">(0.394”)</text>
<text x="598.95" y="631.83" font-size="12.27" textLength="38.25" lengthAdjust="spacingAndGlyphs" fill="#111" stroke="#111" stroke-width="0.05">20mm</text>
<text x="600.12" y="641.44" font-size="9.56" textLength="35.55" lengthAdjust="spacingAndGlyphs" fill="#111">(0.787”)</text>
<text x="645.28" y="559.83" font-size="11.98" textLength="40.61" lengthAdjust="spacingAndGlyphs" fill="#111" stroke="#111" stroke-width="0.05">Ø6mm</text>
<text x="647.63" y="569.65" font-size="8.99" textLength="34.42" lengthAdjust="spacingAndGlyphs" fill="#111">(0.236”)</text>
<text x="693.95" y="631.83" font-size="12.41" textLength="38.05" lengthAdjust="spacingAndGlyphs" fill="#111" stroke="#111" stroke-width="0.05">27mm</text>
<text x="694.91" y="641.74" font-size="9.42" textLength="35.76" lengthAdjust="spacingAndGlyphs" fill="#111">(1.063”)</text>
<text x="654.13" y="718.90" font-size="17.30" textLength="23.60" lengthAdjust="spacingAndGlyphs" fill="#111" stroke="#111" stroke-width="0.3">M7</text>
<g transform="translate(0,0) rotate(-90 0 0)">
<text x="-403.23" y="220.50" font-size="16.57" textLength="86.78" lengthAdjust="spacingAndGlyphs" fill="#111" stroke="#111" stroke-width="0.2">WVS 50 II K</text>
<text x="-393.5" y="204.6" font-size="15.5" font-style="italic" textLength="77" lengthAdjust="spacingAndGlyphs" fill="#fff" stroke="#555" stroke-width="1.3" paint-order="stroke">Wilkinson</text>
</g>
</svg>
</body></html>
